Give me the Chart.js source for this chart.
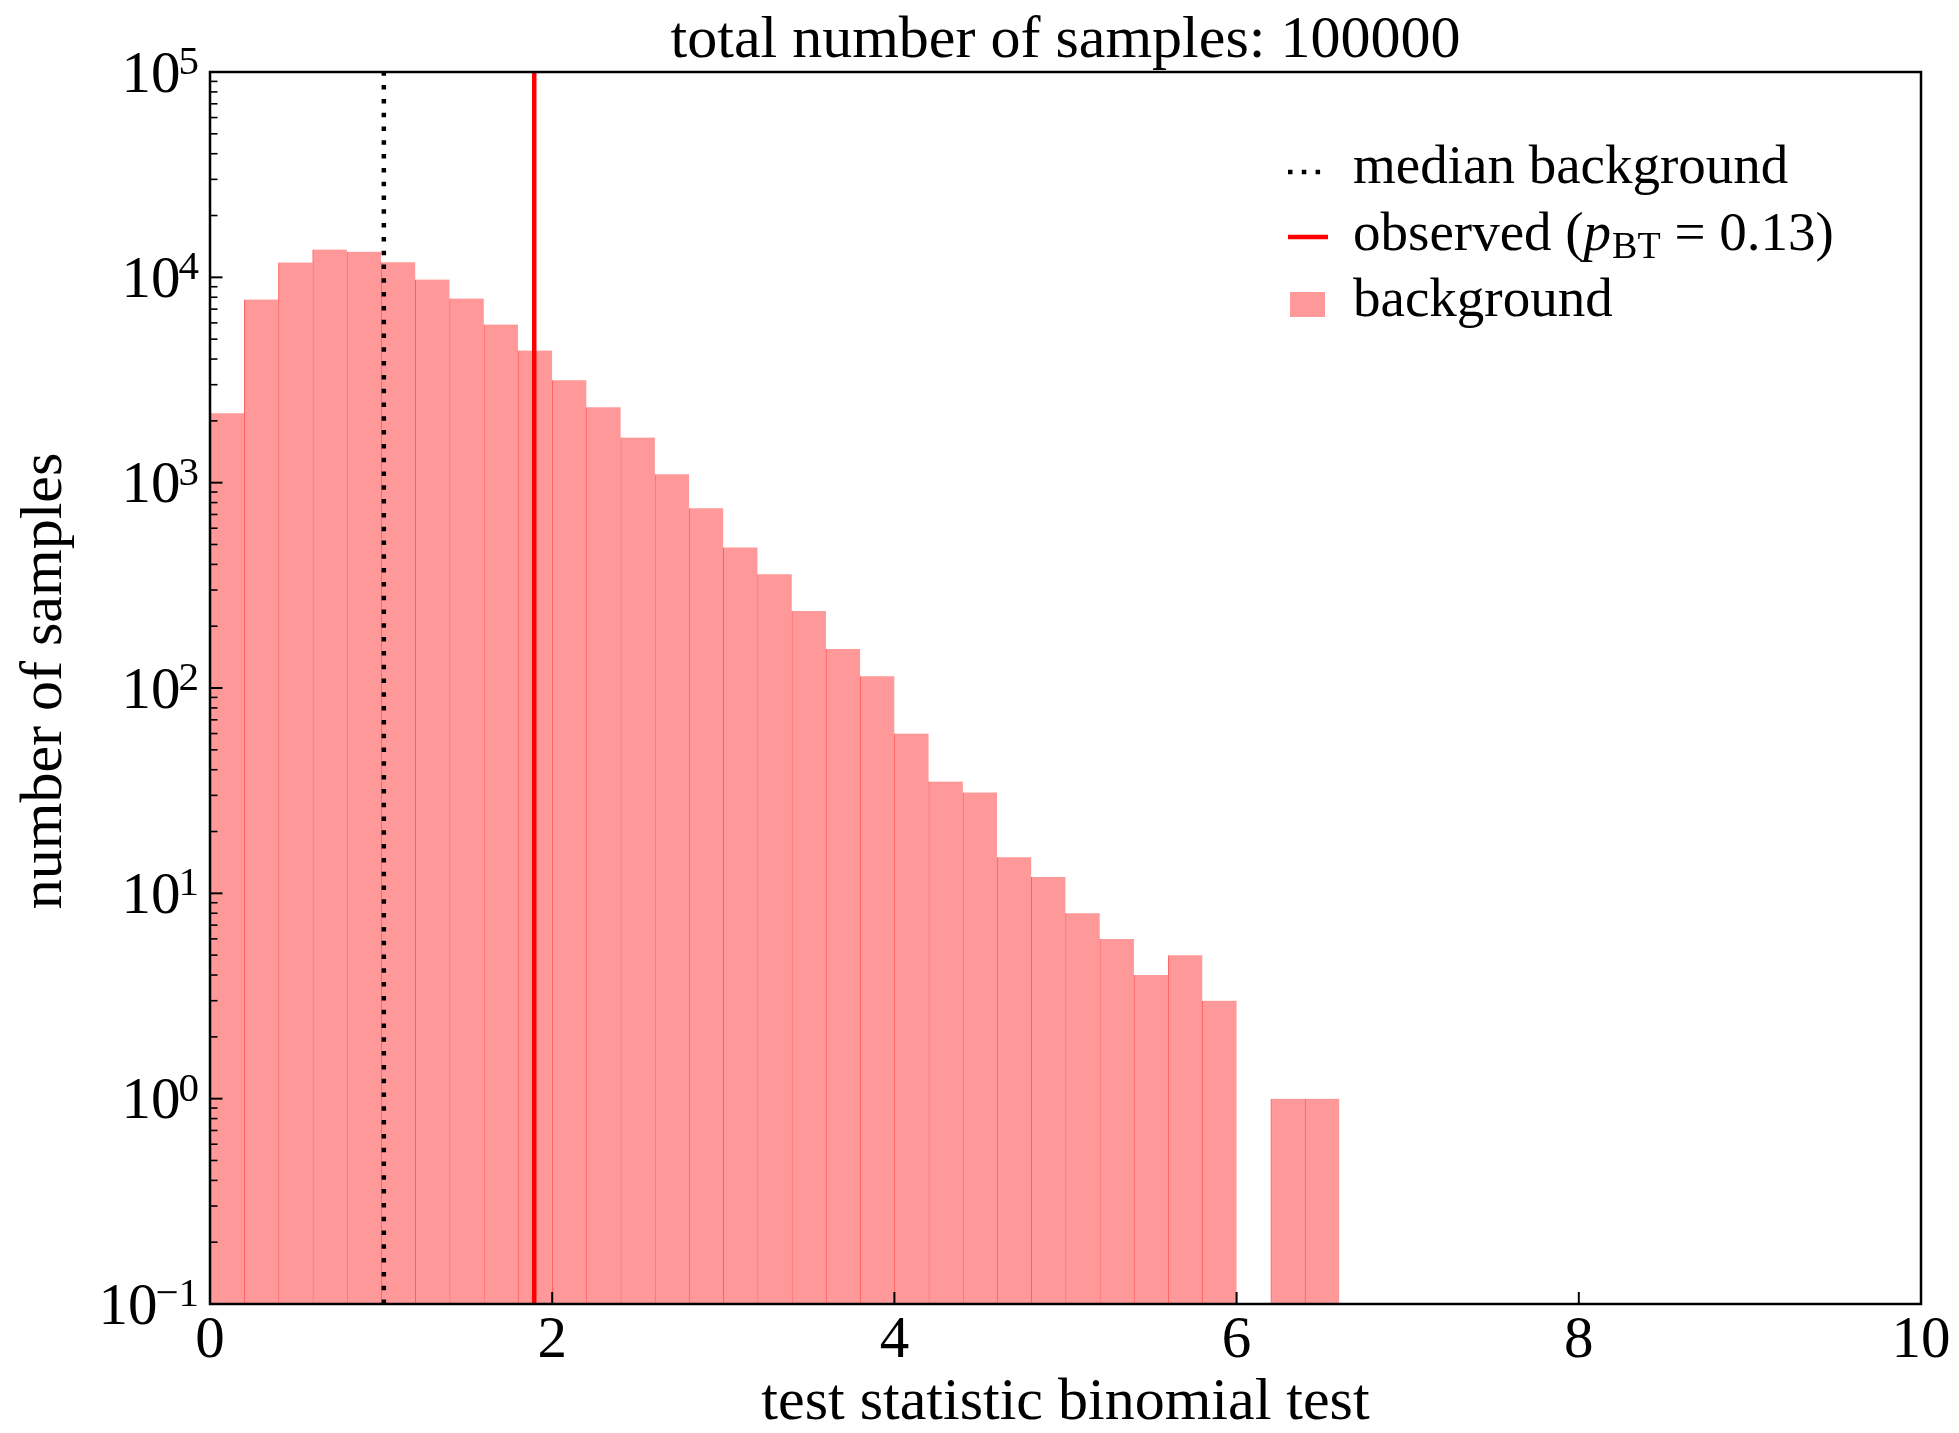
<!DOCTYPE html>
<html>
<head>
<meta charset="utf-8">
<title>Binomial test statistic</title>
<script src="https://cdn.jsdelivr.net/npm/chart.js@4.4.1/dist/chart.umd.min.js"></script>
<style>
  html, body { margin: 0; padding: 0; background: #fff; }
  #wrap { width: 1959px; height: 1433px; }
</style>
</head>
<body>
<div id="wrap"><canvas id="hist" width="1959" height="1433"></canvas></div>
<script>
// Background distribution of the binomial test statistic (0.2 wide bins)
const binWidth = 0.2
const binStarts = [0.0, 0.2, 0.4, 0.6, 0.8, 1.0, 1.2, 1.4, 1.6, 1.8, 2.0, 2.2, 2.4, 2.6, 2.8, 3.0, 3.2,
  3.4, 3.6, 3.8, 4.0, 4.2, 4.4, 4.6, 4.8, 5.0, 5.2, 5.4, 5.6, 5.8, 6.0, 6.2, 6.4]
const binCounts = [2180, 7800, 11800, 13650, 13330, 11850, 9750, 7890, 5890, 4400, 3150, 2330, 1660,
  1100, 750, 484, 358, 237, 155, 114, 60, 35, 31, 15, 12, 8, 6, 4, 5, 3, 0, 1, 1]

const medianBackground = 1.016
const observedValue = 1.895
const observedP = "0.13"
const totalSamples = 100000

const xTicks = [0, 2, 4, 6, 8, 10]
const yExponents = [-1, 0, 1, 2, 3, 4, 5]

const SERIF = '"Liberation Serif", "DejaVu Serif", serif'
const BAR_FILL = "rgb(255, 153, 153)"
const BAR_EDGE = "rgb(255, 92, 92)"
const DOTS = [4.5, 9.3]

// bars only for non-empty bins, placed at bin centres
const barData = []
binStarts.forEach((start, i) => {
  if (binCounts[i] > 0) barData.push({ x: start + binWidth / 2, y: binCounts[i] })
})

function seg(ctx, x1, y1, x2, y2) {
  ctx.beginPath()
  ctx.moveTo(x1, y1)
  ctx.lineTo(x2, y2)
  ctx.stroke()
}

// frame, inward ticks, tick labels, titles and legend
const axesDecor = {
  id: "axesDecor",
  afterDatasetsDraw(chart) {
    const { ctx, chartArea: a, scales: { x, y } } = chart
    ctx.save()
    ctx.strokeStyle = "#000"
    ctx.fillStyle = "#000"

    // log y ticks
    yExponents.forEach(e => {
      const py = y.getPixelForValue(Math.pow(10, e))
      ctx.lineWidth = 2
      seg(ctx, a.left, py, a.left + 12.5, py)
      if (e < yExponents[yExponents.length - 1]) {
        ctx.lineWidth = 1.6
        for (let m = 2; m < 10; m++) {
          const pm = y.getPixelForValue(m * Math.pow(10, e))
          seg(ctx, a.left, pm, a.left + 7.5, pm)
        }
      }
      const expText = e < 0 ? "\u2212" + Math.abs(e) : String(e)
      const right = a.left - 11
      ctx.textAlign = "right"
      ctx.textBaseline = "alphabetic"
      ctx.font = `41px ${SERIF}`
      const we = ctx.measureText(expText).width
      ctx.fillText(expText, right, py + 2)
      ctx.font = `59px ${SERIF}`
      ctx.fillText("10", right - we + 2, py + 19.5)
    })

    // x ticks
    ctx.lineWidth = 2
    ctx.font = `59px ${SERIF}`
    ctx.textAlign = "center"
    xTicks.forEach(v => {
      const px = x.getPixelForValue(v)
      seg(ctx, px, a.bottom, px, a.bottom - 12)
      ctx.fillText(String(v), px, a.bottom + 53)
    })

    // frame
    ctx.lineWidth = 2.5
    ctx.strokeRect(a.left, a.top, a.right - a.left, a.bottom - a.top)

    // titles
    const cx = (a.left + a.right) / 2
    ctx.font = `60px ${SERIF}`
    ctx.textAlign = "center"
    ctx.fillText("total number of samples: " + totalSamples, cx, 57)
    ctx.fillText("test statistic binomial test", cx, 1419)
    ctx.save()
    ctx.translate(61, 681)
    ctx.rotate(-Math.PI / 2)
    ctx.fillText("number of samples", 0, 0)
    ctx.restore()

    // legend
    const tx = 1353
    ctx.textAlign = "left"
    ctx.font = `55px ${SERIF}`

    ctx.lineWidth = 4.5
    ctx.setLineDash(DOTS)
    seg(ctx, 1288, 172, 1328, 172)
    ctx.setLineDash([])
    ctx.fillText("median background", tx, 183)

    ctx.strokeStyle = "#ff0000"
    seg(ctx, 1288, 237, 1328, 237)
    let px = tx
    const parts = [
      ["observed (", `55px ${SERIF}`, 0],
      ["p", `italic 55px ${SERIF}`, 0],
      ["BT", `38px ${SERIF}`, 8],
      [" = " + observedP + ")", `55px ${SERIF}`, 0]
    ]
    parts.forEach(([txt, font, dy]) => {
      ctx.font = font
      ctx.fillText(txt, px, 250 + dy)
      px += ctx.measureText(txt).width + (txt === "p" ? 1 : 0)
    })

    ctx.fillStyle = BAR_FILL
    ctx.fillRect(1290, 292, 35, 25)
    ctx.fillStyle = "#000"
    ctx.font = `55px ${SERIF}`
    ctx.fillText("background", tx, 316)

    ctx.restore()
  }
}

new Chart(document.getElementById("hist"), {
  data: {
    datasets: [
      {
        type: "line",
        label: "observed",
        data: [{ x: observedValue, y: 0.1 }, { x: observedValue, y: 1e5 }],
        borderColor: "#ff0000",
        borderWidth: 4.5,
        pointRadius: 0,
        order: 1,
      },
      {
        type: "line",
        label: "median background",
        data: [{ x: medianBackground, y: 0.1 }, { x: medianBackground, y: 1e5 }],
        borderColor: "#000",
        borderWidth: 4.5,
        borderDash: DOTS,
        borderCapStyle: "butt",
        pointRadius: 0,
        order: 2,
      },
      {
        type: "bar",
        label: "background",
        data: barData,
        backgroundColor: BAR_FILL,
        borderColor: BAR_EDGE,
        borderWidth: { left: 1, right: 0, top: 0, bottom: 0 },
        borderSkipped: false,
        barPercentage: 1,
        categoryPercentage: 1,
        order: 3,
      },
    ],
  },
  options: {
    responsive: false,
    animation: false,
    devicePixelRatio: 1,
    layout: { padding: { left: 210, right: 38, top: 72, bottom: 129 } },
    plugins: {
      legend: { display: false },
      tooltip: { enabled: false },
    },
    scales: {
      x: {
        type: "linear",
        display: false,
        min: 0,
        max: 10,
        offset: false,
        ticks: { stepSize: 2 },
      },
      y: {
        type: "logarithmic",
        display: false,
        min: 0.1,
        max: 1e5,
      },
    },
  },
  plugins: [axesDecor],
})
</script>
</body>
</html>
